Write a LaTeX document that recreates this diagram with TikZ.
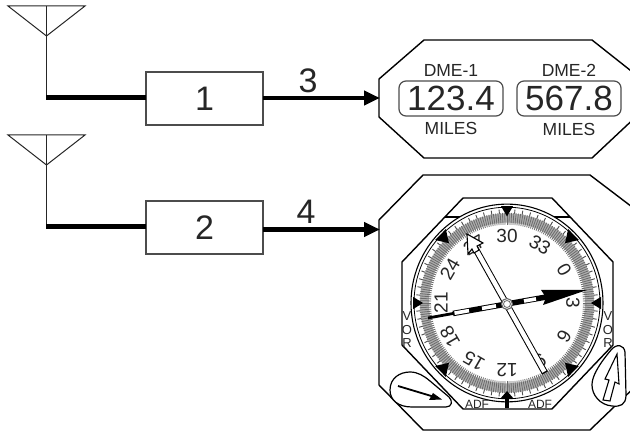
\documentclass[tikz,border=0pt]{standalone}
\usepackage{fontspec}
\setmainfont{Liberation Sans}
\usetikzlibrary{arrows.meta}
\tikzset{
 every node/.style={inner sep=0pt,outer sep=0pt,text=black!85},
 ant/.style={draw=black!85,line width=1pt,line join=miter},
 boxn/.style={draw=black!70,line width=1.1pt,minimum width=117pt,minimum height=53pt,font=\fontsize{34}{34}\selectfont,anchor=north west},
 feed/.style={line width=5pt,black},
 sig/.style={line width=4.5pt,black,-{Triangle[length=16pt,width=14pt]},shorten >=0pt},
 panel/.style={draw=black,line width=1.4pt},
 disp/.style={draw=black!70,rounded corners=7pt,line width=1.2pt,minimum width=104pt,minimum height=35pt,anchor=north west,font=\fontsize{35}{35}\selectfont},
 captxt/.style={font=\fontsize{17.5}{17.5}\selectfont},
 small/.style={font=\fontsize{13}{13}\selectfont},
 scal/.style={font=\fontsize{19}{19}\selectfont},
}
\begin{document}
\begin{tikzpicture}[x=1pt,y=-1pt]
\useasboundingbox (0,0) rectangle (630,435);
\clip (0,0) rectangle (630,435);
% antennas
\foreach \yy in {6,135}{
 \draw[ant] (8,\yy) -- (85,\yy) -- (46.5,\yy+30) -- cycle;
 \draw[ant] (46.5,\yy) -- (46.5,\yy+92);
}
\node[boxn] (b1) at (146,72) {1};
\node[boxn] (b2) at (146,201) {2};
\coordinate (a1) at (46,98);
\coordinate (a2) at (46,227);
\coordinate (o1) at (380,98);
\coordinate (o2) at (380,229.5);
\draw[feed] (a1) -- (a1-|b1.west);
\draw[feed] (a2) -- (a2-|b2.west);
\draw[sig] (o1-|b1.east) -- (o1);
\draw[sig] (o2-|b2.east) -- (o2);
\node[font=\fontsize{34}{34}\selectfont] (n3) at (308,81) {3};
\node[font=\fontsize{34}{34}\selectfont] (n4) at (306,212) {4};
% DME panel
\draw[panel] (640,78) -- (592,40) -- (424,40) -- (379,79) -- (379,117) -- (424,158) -- (592,158) -- (640,113);
\node[disp] (d1) at (399,81) {123.4};
\node[disp] (d2) at (517,81) {567.8};
\node[captxt] (t1) at (451,70) {DME-1};
\node[captxt] (t2) at (569,70) {DME-2};
\node[captxt] (m1) at (451,128) {MILES};
\node[captxt] (m2) at (569,129) {MILES};
% compass panel
\draw[panel] (640,213) -- (590,175) -- (423,175) -- (379,220) -- (379,385) -- (423,430) -- (590,430) -- (640,382);
\draw[panel] (463,198) -- (552,198) -- (613,262) -- (613,345) -- (552,409) -- (463,409) -- (402,345) -- (402,262) -- cycle;
\draw[panel] (445,217) -- (470,217);
\draw[panel] (570,217) -- (545,217);
% dial
\begin{scope}[shift={(507,303)},yscale=1.03]
 \fill[white] (0,0) circle (96);
 \draw[line width=1.1pt] (0,0) circle (96);
 \draw[line width=.8pt] (0,0) circle (93);
 \foreach \a in {0,5,...,355}
  \draw[line width=.9pt,black!70] (\a:85) -- (\a:91);
 \fill[black!32,even odd rule] (0,0) circle (87) (0,0) circle (78);
 \foreach \a in {0,1.5,...,358.5}
  \draw[line width=.8pt,black!58] (\a:76) -- (\a:87.5);
 \foreach \a in {0,90,180}
  \fill[rotate=\a] (94,-6) -- (94,6) -- (84,0) -- cycle;
 \foreach \a in {45,135,225,315}
  \fill[rotate=\a] (94,-7.5) -- (94,7.5) -- (82,0) -- cycle;
\end{scope}
\node[fill=black,minimum width=4pt,minimum height=10pt] (stem) at (507,403) {};
\fill (500,399) -- (514,399) -- (507,391) -- cycle;
% scale labels
\foreach \lab/\ang in {30/0,33/30,0/60,3/90,6/120,9/150,12/180,15/210,18/240,21/270,24/300,27/330}
  \node[scal,rotate=-\ang] (s\ang) at ({507+66*sin(\ang)},{303-67*cos(\ang)}) {\lab};
% side labels
\foreach \xx/\k in {407/l,608/r}{
 \node[small] (v\k) at (\xx,316) {V};
 \node[small] (o\k) at (\xx,330) {O};
 \node[small] (r\k) at (\xx,343) {R};
}
\node[font=\fontsize{12}{12}\selectfont] (adfa) at (477,404) {ADF};
\node[font=\fontsize{12}{12}\selectfont] (adfb) at (540,404) {ADF};
% needle 1
\draw[line width=2.8pt] (428,318) -- (453,313.5);
\draw[line width=5.5pt] (453,313.5) -- (552,296);
\draw[line width=3.6pt,white] (454.5,313.2) -- (469,310.6);
\draw[line width=3.6pt,white] (482,308.4) -- (496,305.9);
\draw[line width=3.6pt,white] (524,301) -- (536,298.9);
\fill (587,290) -- (543,305) -- (546,297.5) -- (541,290) -- cycle;
% needle 2
\draw[line width=6.5pt] (545,373) -- (474,246);
\draw[line width=4.5pt,white] (544.3,371.7) -- (474.5,246.8);
\draw[line width=1.1pt,fill=white] (467,234) -- (483,243) -- (477,246) -- (479,250) -- (474,253) -- (472,249) -- (468,254) -- cycle;
\draw[line width=1.1pt,black!60,fill=white] (507,304) circle (5.5);
\draw[line width=.8pt,black!60] (507,304) circle (3.5);
% knobs
\draw[line width=1.2pt,fill=white]
 (390,390) .. controls (390,378) and (400,372) .. (410,372)
 .. controls (418,372) and (424,376) .. (430,381)
 -- (449,397) .. controls (453,401) and (452,407) .. (446,407)
 -- (412,407) .. controls (398,407) and (390,400) .. (390,390) -- cycle;
\draw[line width=1.8pt] (398,386) -- (438,398);
\fill (442,399.5) -- (429,400) -- (433,393) -- cycle;
\draw[line width=1.2pt,fill=white]
 (611,350) .. controls (617,343) and (624,345) .. (625,352)
 -- (626,395) .. controls (626,405) and (620,407) .. (612,406) .. controls (600,405) and (592,395) .. (592,385) .. controls (592,378) and (596,368) .. (611,350) -- cycle;
\draw[line width=1.1pt,fill=white] (603,400) -- (609,380) -- (605,379) -- (617,354) -- (619,384) -- (615,382) -- (610,401) -- cycle;
\end{tikzpicture}
\end{document}
